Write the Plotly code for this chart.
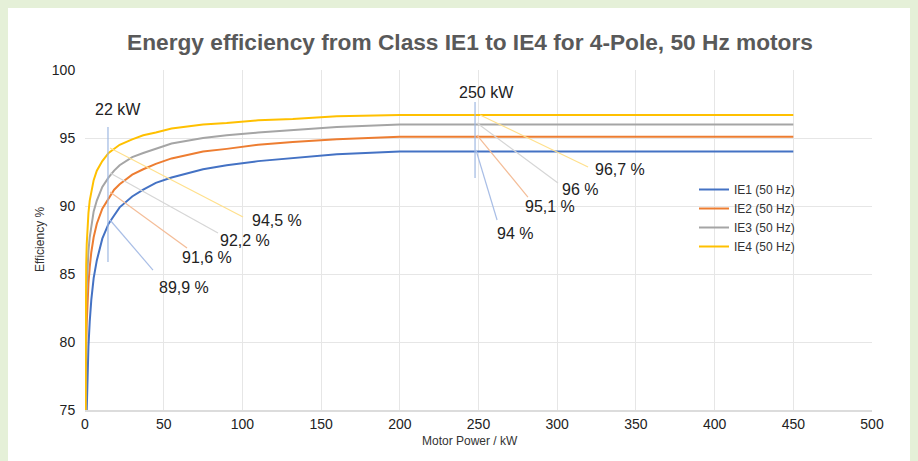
import plotly.graph_objects as go

# Motor rated power (kW)
power_kw = [0.12, 0.18, 0.2, 0.25, 0.37, 0.4, 0.55, 0.75, 1.1, 1.5, 2.2, 3, 4, 5.5, 7.5,
            11, 15, 18.5, 22, 30, 37, 45, 55, 75, 90, 110, 132, 160, 200, 250, 315,
            355, 375, 400, 450]

ie1 = [50.0, 57.0, 58.5, 61.5, 66.0, 66.8, 70.0, 72.1, 75.0, 77.2, 79.7, 81.5, 83.1, 84.7, 86.0,
       87.6, 88.7, 89.3, 89.9, 90.7, 91.2, 91.7, 92.1, 92.7, 93.0, 93.3, 93.5, 93.8, 94.0, 94.0, 94.0,
       94.0, 94.0, 94.0, 94.0]
ie2 = [59.1, 64.7, 65.9, 68.5, 72.7, 73.5, 77.1, 79.6, 81.4, 82.8, 84.3, 85.5, 86.6, 87.7, 88.7,
       89.8, 90.6, 91.2, 91.6, 92.3, 92.7, 93.1, 93.5, 94.0, 94.2, 94.5, 94.7, 94.9, 95.1, 95.1, 95.1,
       95.1, 95.1, 95.1, 95.1]
ie3 = [64.8, 69.9, 71.1, 73.5, 77.3, 78.0, 80.8, 82.5, 84.1, 85.3, 86.7, 87.7, 88.6, 89.6, 90.4,
       91.4, 92.1, 92.6, 93.0, 93.6, 93.9, 94.2, 94.6, 95.0, 95.2, 95.4, 95.6, 95.8, 96.0, 96.0, 96.0,
       96.0, 96.0, 96.0, 96.0]
ie4 = [69.8, 74.7, 75.8, 77.9, 81.1, 81.7, 83.9, 85.7, 87.2, 88.2, 89.5, 90.4, 91.1, 91.9, 92.6,
       93.3, 93.9, 94.2, 94.5, 94.9, 95.2, 95.4, 95.7, 96.0, 96.1, 96.3, 96.4, 96.6, 96.7, 96.7, 96.7,
       96.7, 96.7, 96.7, 96.7]

series_names = ["IE1 (50 Hz)", "IE2 (50 Hz)", "IE3 (50 Hz)", "IE4 (50 Hz)"]
series_vals = [ie1, ie2, ie3, ie4]
colors = ["#4472C4", "#ED7D31", "#A5A5A5", "#FFC000"]
light_colors = ["#a9bee6", "#f4bd98", "#d6d6d6", "#ffe08c"]

x_ticks = [0, 50, 100, 150, 200, 250, 300, 350, 400, 450, 500]
y_ticks = [75, 80, 85, 90, 95, 100]

# Callout labels (text) at 22 kW and 250 kW
labels_22 = ["89,9 %", "91,6 %", "92,2 %", "94,5 %"]
labels_250 = ["94 %", "95,1 %", "96 %", "96,7 %"]

# callout geometry (start point on curve, leader end, label anchor)
call22_start = [(15.9, 88.97), (15.9, 91.03), (15.9, 92.43), (15.9, 94.26)]
call22_end = [(43.2, 85.29), (64.8, 86.91), (84.5, 88.01), (100.4, 89.19)]
call22_lab = [(45.5, 84.04), (60.4, 86.18), (84.5, 87.5), (104.8, 88.97)]
call250_start = [(248.4, 94.12), (249, 95.22), (249, 96.1), (251, 96.69)]
call250_end = [(261.8, 88.97), (281.4, 90.66), (300.5, 91.69), (319.6, 92.87)]
call250_lab = [(260.5, 88.01), (278.3, 89.93), (301.8, 91.18), (322.7, 92.72)]

W, H = 910, 453
L, R, T, B = 77, 46, 62, 51
PW, PH = W - L - R, H - T - B


def px(xf):
    return (xf - L) / PW


def py(yf):
    return (H - B - yf) / PH


fig = go.Figure()
for name, vals, c in zip(series_names, series_vals, colors):
    fig.add_trace(go.Scatter(x=power_kw, y=vals, name=name, mode="lines",
                             line=dict(color=c, width=2), cliponaxis=True))

shapes = []
annotations = []

# vertical markers
shapes.append(dict(type="line", x0=14.6, x1=14.6, y0=85.88, y1=95.81,
                   line=dict(color="#9fb8e2", width=1.2)))
shapes.append(dict(type="line", x0=247.8, x1=247.8, y0=92.06, y1=97.65,
                   line=dict(color="#9fb8e2", width=1.2)))
annotations.append(dict(x=21.0, y=97.13, text="22 kW", showarrow=False,
                        font=dict(size=16, color="#222")))
annotations.append(dict(x=254.8, y=98.31, text="250 kW", showarrow=False,
                        font=dict(size=16, color="#222")))

for starts, ends, labs, texts in [(call22_start, call22_end, call22_lab, labels_22),
                                   (call250_start, call250_end, call250_lab, labels_250)]:
    for (sx, sy), (ex, ey), (lx, ly), t, lc in zip(starts, ends, labs, texts, light_colors):
        shapes.append(dict(type="line", x0=sx, y0=sy, x1=ex, y1=ey,
                           line=dict(color=lc, width=1.2)))
        annotations.append(dict(x=lx, y=ly, text=t, showarrow=False, xanchor="left",
                                yanchor="middle", font=dict(size=16, color="#222")))

# axis titles
annotations.append(dict(xref="paper", yref="paper", x=px(462), y=py(433),
                        xanchor="center", yanchor="middle",
                        text="Motor Power / kW", showarrow=False, font=dict(size=12, color="#333")))
annotations.append(dict(xref="paper", yref="paper", x=px(32), y=py(232),
                        xanchor="center", yanchor="middle",
                        text="Efficiency %", textangle=-90, showarrow=False,
                        font=dict(size=12, color="#333")))

fig.update_layout(
    width=W, height=H,
    margin=dict(l=L, r=R, t=T, b=B),
    paper_bgcolor="white", plot_bgcolor="white",
    font=dict(family="Liberation Sans, Arial, sans-serif", color="#333"),
    title=dict(text="Energy efficiency from Class IE1 to IE4 for 4-Pole, 50 Hz motors",
               x=462 / W, xanchor="center", y=1 - 34 / H, yanchor="middle",
               font=dict(size=22.7, color="#595959", family="Liberation Sans, Arial, sans-serif",
                         weight="bold")),
    xaxis=dict(range=[0, 500], tickvals=x_ticks, showgrid=True, gridcolor="#e6e6e6",
               zeroline=False, showline=True, linecolor="#dcdcdc", linewidth=1.5,
               ticks="", tickfont=dict(size=14, color="#222")),
    yaxis=dict(range=[75, 100], tickvals=y_ticks, showgrid=True, gridcolor="#e6e6e6",
               zeroline=False, showline=False,
               ticks="outside", ticklen=6, tickcolor="rgba(0,0,0,0)",
               tickfont=dict(size=14, color="#222")),
    legend=dict(x=px(686), y=py(167), xanchor="left", yanchor="top",
                bgcolor="rgba(0,0,0,0)", font=dict(size=12, color="#333"),
                tracegroupgap=0, itemwidth=30),
    shapes=shapes, annotations=annotations,
    showlegend=True,
)

fig.write_html("out.html",
               post_script="document.body.style.backgroundColor='#e5f0d8';")
